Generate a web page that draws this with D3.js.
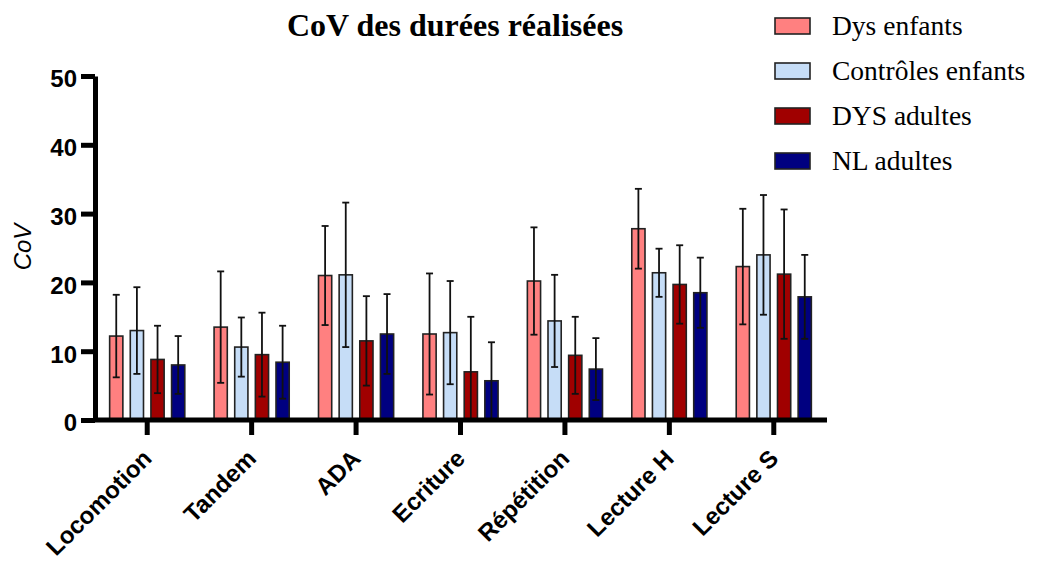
<!DOCTYPE html>
<html>
<head>
<meta charset="utf-8">
<script src="https://cdn.jsdelivr.net/npm/d3@7"></script>
<style>
  body { margin: 0; background: #fff; }
  svg { display: block; }
</style>
</head>
<body>
<svg class="chart" width="1037" height="562"></svg>
<script>
var tasks = ["Locomotion", "Tandem", "ADA", "Ecriture", "Répétition", "Lecture H", "Lecture S"];
var groups = ["Dys enfants", "Contrôles enfants", "DYS adultes", "NL adultes"];
var colors = ["#ff8080", "#c6ddf7", "#a00000", "#000080"];

// mean CoV per task, one array per group
var dysEnfants     = [12.2, 13.5, 21.0, 12.5, 20.2, 27.8, 22.3];
var ctrlEnfants    = [13.0, 10.6, 21.1, 12.7, 14.4, 21.4, 24.0];
var dysAdultes     = [8.8, 9.5, 11.5, 7.0, 9.4, 19.7, 21.2];
var nlAdultes      = [8.0, 8.4, 12.5, 5.7, 7.4, 18.5, 17.9];

// standard deviations (error bars)
var dysEnfantsSd   = [6.0, 8.1, 7.2, 8.8, 7.8, 5.8, 8.4];
var ctrlEnfantsSd  = [6.3, 4.3, 10.5, 7.5, 6.7, 3.5, 8.7];
var dysAdultesSd   = [4.9, 6.1, 6.5, 8.0, 5.6, 5.7, 9.4];
var nlAdultesSd    = [4.2, 5.3, 5.8, 5.6, 4.5, 5.1, 6.1];

var yTicks = [0, 10, 20, 30, 40, 50];

var means = [dysEnfants, ctrlEnfants, dysAdultes, nlAdultes];
var sds = [dysEnfantsSd, ctrlEnfantsSd, dysAdultesSd, nlAdultesSd];

var rows = [];
tasks.forEach(function(t, i) {
  groups.forEach(function(g, j) {
    rows.push({ task: t, group: g, idx: j, mean: means[j][i], sd: sds[j][i] });
  });
});

var svg = d3.select("svg.chart");

var x0 = d3.scaleBand().domain(tasks).range([95, 826]).paddingInner(0).paddingOuter(0);
var x1 = d3.scaleBand().domain(groups).range([x0.bandwidth() / 2 - 45, x0.bandwidth() / 2 + 45]).padding(0.36);
var y = d3.scaleLinear().domain([0, 50]).range([420, 76]);

// title
svg.append("text")
   .attr("x", 455).attr("y", 36)
   .attr("text-anchor", "middle")
   .style("font-family", "'Liberation Serif', 'Times New Roman', serif")
   .style("font-weight", "bold")
   .style("font-size", "32px")
   .text("CoV des durées réalisées");

// bars
var bars = svg.append("g");
bars.selectAll("rect")
    .data(rows)
    .enter()
    .append("rect")
    .attr("x", function(d) { return x0(d.task) + x1(d.group); })
    .attr("y", function(d) { return y(d.mean); })
    .attr("width", x1.bandwidth())
    .attr("height", function(d) { return y(0) - y(d.mean); })
    .attr("fill", function(d) { return colors[d.idx]; })
    .attr("stroke", "#222")
    .attr("stroke-width", 1.6);

// error bars (mean +/- sd, bottom clipped at 0)
var err = svg.append("g").attr("stroke", "#111").attr("stroke-width", 1.8);
rows.forEach(function(d) {
  var cx = x0(d.task) + x1(d.group) + x1.bandwidth() / 2;
  var lo = Math.max(0, d.mean - d.sd);
  err.append("line").attr("x1", cx).attr("x2", cx)
     .attr("y1", y(d.mean + d.sd)).attr("y2", y(lo));
  err.append("line").attr("x1", cx - 3.5).attr("x2", cx + 3.5)
     .attr("y1", y(d.mean + d.sd)).attr("y2", y(d.mean + d.sd));
  if (lo > 0) {
    err.append("line").attr("x1", cx - 3.5).attr("x2", cx + 3.5)
       .attr("y1", y(lo)).attr("y2", y(lo));
  }
});

// y axis
var yAxis = svg.append("g")
   .attr("transform", "translate(95,0)")
   .call(d3.axisLeft(y).tickValues(yTicks).tickSize(14).tickSizeOuter(0).tickPadding(4));
yAxis.select(".domain").attr("stroke", "#000").attr("stroke-width", 5);
yAxis.selectAll(".tick line").attr("stroke", "#000").attr("stroke-width", 5);
yAxis.selectAll(".tick text")
   .style("font-family", "'Liberation Sans', Arial, sans-serif")
   .style("font-weight", "bold")
   .style("font-size", "24px")
   .attr("dy", "0.45em")
   .attr("fill", "#000");

// x axis
var xAxis = svg.append("g")
   .attr("transform", "translate(0,420)")
   .call(d3.axisBottom(x0).tickSize(15).tickSizeOuter(0));
xAxis.select(".domain").attr("stroke", "#000").attr("stroke-width", 5).attr("d", "M93,0H827");
xAxis.selectAll(".tick line").attr("stroke", "#000").attr("stroke-width", 5);
xAxis.selectAll(".tick text")
   .style("font-family", "'Liberation Sans', Arial, sans-serif")
   .style("font-weight", "bold")
   .style("font-size", "24px")
   .attr("fill", "#000")
   .attr("text-anchor", "end")
   .attr("x", 0).attr("y", 0).attr("dy", 0)
   .attr("transform", "translate(6,40) rotate(-45)");

// y label
svg.append("text")
   .attr("transform", "translate(31,247) rotate(-90)")
   .attr("text-anchor", "middle")
   .style("font-family", "'Liberation Sans', Arial, sans-serif")
   .style("font-style", "italic")
   .style("font-size", "24px")
   .text("CoV");

// legend
var legend = svg.append("g").selectAll("g")
   .data(groups)
   .enter()
   .append("g")
   .attr("transform", function(d, i) { return "translate(775," + (18 + i * 45) + ")"; });
legend.append("rect")
   .attr("width", 35).attr("height", 16)
   .attr("fill", function(d, i) { return colors[i]; })
   .attr("stroke", "#222").attr("stroke-width", 1.6);
legend.append("text")
   .attr("x", 57).attr("y", 17)
   .style("font-family", "'Liberation Serif', 'Times New Roman', serif")
   .style("font-size", "27.5px")
   .text(function(d) { return d; });
</script>
</body>
</html>
